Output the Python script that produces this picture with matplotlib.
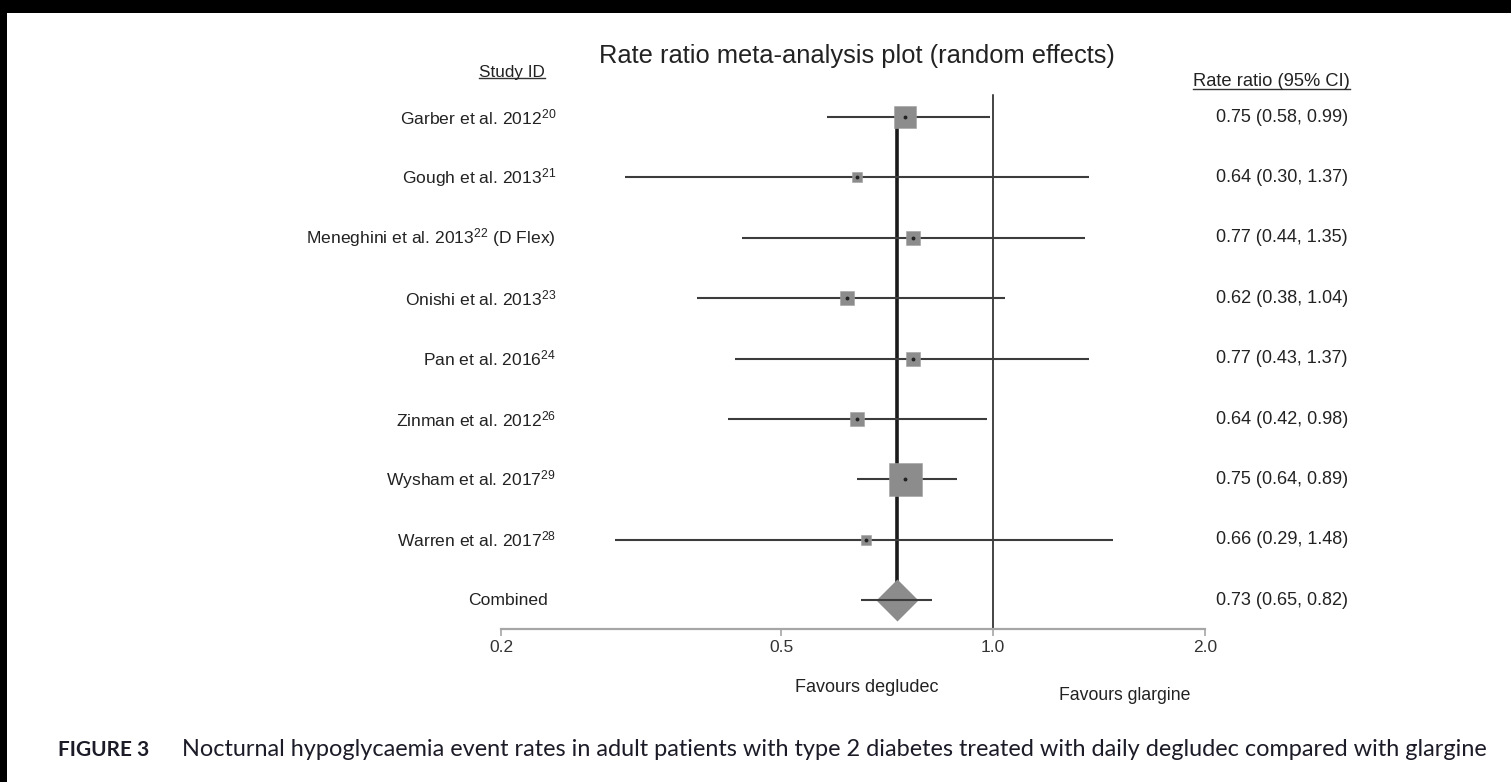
import numpy as np
import matplotlib
matplotlib.use("Agg")
import matplotlib.pyplot as plt
from matplotlib.transforms import blended_transform_factory
from matplotlib.lines import Line2D
from matplotlib.patches import Rectangle

plt.rcParams['font.family'] = ['Liberation Sans', 'DejaVu Sans']
plt.rcParams['mathtext.fontset'] = 'custom'
plt.rcParams['mathtext.rm'] = 'Liberation Sans'
plt.rcParams['mathtext.it'] = 'Liberation Sans:italic'
plt.rcParams['mathtext.bf'] = 'Liberation Sans:bold'

# ---------------- data ----------------
studies = ["Garber et al. 2012$^{20}$", "Gough et al. 2013$^{21}$",
           "Meneghini et al. 2013$^{22}$ (D Flex)", "Onishi et al. 2013$^{23}$",
           "Pan et al. 2016$^{24}$", "Zinman et al. 2012$^{26}$",
           "Wysham et al. 2017$^{29}$", "Warren et al. 2017$^{28}$"]
rate_ratio = [0.75, 0.64, 0.77, 0.62, 0.77, 0.64, 0.75, 0.66]
ci_low = [0.58, 0.30, 0.44, 0.38, 0.43, 0.42, 0.64, 0.29]
ci_high = [0.99, 1.37, 1.35, 1.04, 1.37, 0.98, 0.89, 1.48]
weights = [17.9, 4.9, 6.9, 6.9, 6.9, 9.1, 44.2, 3.3]   # estimated study weights (%)
combined_label = "Combined"
combined_rr = 0.73
combined_low = 0.65
combined_high = 0.82
tick_values = [0.2, 0.5, 1.0, 2.0]
tick_labels = ["0.2", "0.5", "1.0", "2.0"]

# ---------------- figure ----------------
W, H, DPI = 1511, 782, 100
fig = plt.figure(figsize=(W / DPI, H / DPI), dpi=DPI)
fig.patch.set_facecolor('white')

def fx(px):
    return px / W

def fy(py):
    return 1 - py / H

# black scan borders
fig.patches.append(Rectangle((0, fy(13)), 1, 13 / H, transform=fig.transFigure,
                             facecolor='black', edgecolor='none', zorder=10))
fig.patches.append(Rectangle((0, 0), fx(7), 1, transform=fig.transFigure,
                             facecolor='black', edgecolor='none', zorder=10))

ax_left, ax_right = 501, 1205
ax_top, ax_bot = 90, 629
row0_px, row_step = 117, 60.4
ax = fig.add_axes([fx(ax_left), fy(ax_bot), (ax_right - ax_left) / W, (ax_bot - ax_top) / H])
ax.set_xscale('log')
ax.set_xlim(0.2, 2.0)
ymin = (ax_top - row0_px) / row_step
ymax = (ax_bot - row0_px) / row_step
ax.set_ylim(ymax, ymin)

n = len(studies)
rows = np.arange(n)
comb_row = n

for s in ['top', 'left', 'right']:
    ax.spines[s].set_visible(False)
ax.spines['bottom'].set_color('#a6a6a6')
ax.spines['bottom'].set_linewidth(1.6)
ax.set_yticks([])
ax.set_xticks(tick_values)
ax.set_xticklabels(tick_labels)
ax.xaxis.set_minor_locator(matplotlib.ticker.NullLocator())
ax.tick_params(axis='x', direction='out', length=5, width=1.2, color='#a6a6a6',
               labelsize=12.5, labelcolor='#333333', pad=3)

# reference line at 1
ax.plot([1.0, 1.0], [ymax, (95 - row0_px) / row_step], color='#111111', lw=1.1, zorder=2)

# combined estimate line
ax.plot([combined_rr, combined_rr], [0, comb_row], color='#1a1a1a', lw=2.6, zorder=2,
        solid_capstyle='butt')

# CIs
ax.hlines(rows, ci_low, ci_high, color='#3c3c3c', lw=1.5, zorder=3)
ax.hlines([comb_row], [combined_low], [combined_high], color='#3c3c3c', lw=1.5, zorder=5)

# squares
max_side_px = 33
for r, rr, w in zip(rows, rate_ratio, weights):
    side_px = max_side_px * np.sqrt(w / max(weights))
    ax.plot(rr, r, marker='s', ms=side_px * 72 / DPI, color='#8c8c8c',
            mec='#a0a0a0', mew=0.4, zorder=4, linestyle='none')
    ax.plot(rr, r, marker='o', ms=1.8, color='#222222', zorder=6, linestyle='none')

# diamond
ax.plot(combined_rr, comb_row, marker='D', ms=21.0, color='#8c8c8c', mec='none',
        zorder=4, linestyle='none')

# text columns
tr = blended_transform_factory(fig.transFigure, ax.transData)
for r, lab in zip(rows, studies):
    ax.text(fx(556), r, lab, transform=tr, ha='right', va='center', fontsize=12.6,
            color='#222222')
ax.text(fx(548), comb_row, combined_label, transform=tr, ha='right', va='center',
        fontsize=12.6, color='#222222')

for r, rr, lo, hi in zip(rows, rate_ratio, ci_low, ci_high):
    ax.text(fx(1348), r, f"{rr:.2f} ({lo:.2f}, {hi:.2f})", transform=tr, ha='right',
            va='center', fontsize=13, color='#222222')
ax.text(fx(1348), comb_row, f"{combined_rr:.2f} ({combined_low:.2f}, {combined_high:.2f})",
        transform=tr, ha='right', va='center', fontsize=13, color='#222222')

# headers
h1 = fig.text(fx(545), fy(72), "Study ID", ha='right', va='center', fontsize=12.3, color='#222222')
h2 = fig.text(fx(1350), fy(82), "Rate ratio (95% CI)", ha='right', va='center', fontsize=13.2,
              color='#222222')
fig.text(fx(857), fy(56), "Rate ratio meta-analysis plot (random effects)", ha='center',
         va='center', fontsize=18.4, color='#222222')

fig.text(fx(867), fy(687), "Favours degludec", ha='center', va='center', fontsize=13.0,
         color='#222222')
fig.text(fx(1125), fy(696), "Favours glargine", ha='center', va='center', fontsize=12.7,
         color='#222222')

# caption
fig.text(fx(58), fy(750), "FIGURE 3", ha='left', va='center', fontsize=15,
         family=['Lato', 'DejaVu Sans'], weight='bold', color='#1c1c28')
fig.text(fx(182), fy(750),
         "Nocturnal hypoglycaemia event rates in adult patients with type 2 diabetes "
         "treated with daily degludec compared with glargine",
         ha='left', va='center', fontsize=16.9, family=['Lato', 'DejaVu Sans'],
         color='#1c1c28')

# underline headers
fig.canvas.draw()
renderer = fig.canvas.get_renderer()
inv = fig.transFigure.inverted()
for t in (h1, h2):
    bb = t.get_window_extent(renderer)
    (x0, y0), (x1, _) = inv.transform([(bb.x0, bb.y0 + 1), (bb.x1, bb.y0 + 1)])
    fig.lines.append(Line2D([x0, x1], [y0, y0], transform=fig.transFigure,
                            color='#333333', lw=1.0))

fig.savefig("out.png", dpi=DPI, facecolor='white')
